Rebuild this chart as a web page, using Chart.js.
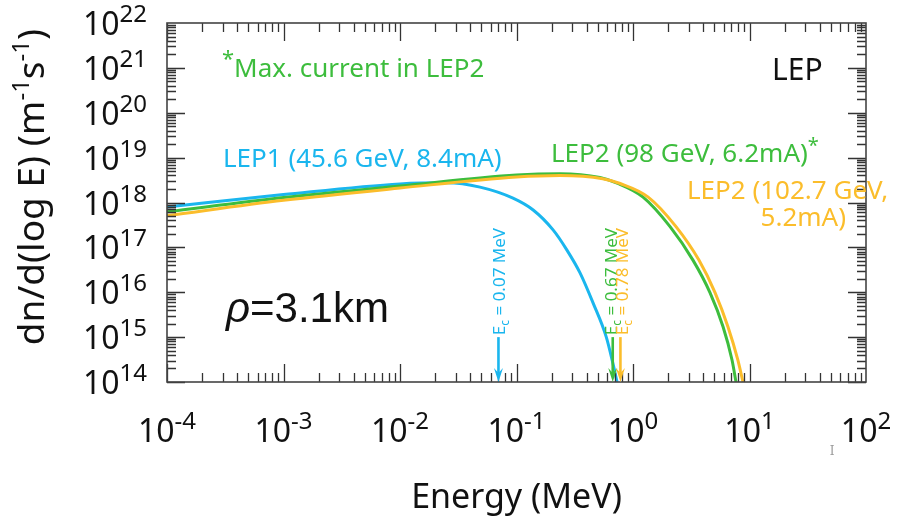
<!DOCTYPE html>
<html>
<head>
<meta charset="utf-8">
<title>Synchrotron radiation spectrum at LEP</title>
<script src="https://cdn.jsdelivr.net/npm/chart.js@4.4.1/dist/chart.umd.min.js"></script>
<style>
  html, body { margin: 0; padding: 0; background: #fff; }
  #wrap { width: 897px; height: 524px; }
</style>
</head>
<body>
<div id="wrap"><canvas id="spectrum" width="897" height="524"></canvas></div>
<script>
// photon energy (MeV) and dn/d(log E) (m^-1 s^-1) along each curve
const lep1Energy = [1e-4, 1e-3, 1e-2, 0.0253, 0.0486, 0.0933, 0.139, 0.206, 0.271, 0.351, 0.454, 0.59, 0.67, 0.73];
const lep1Flux = [7.9e17, 1.5e18, 2.6e18, 2.75e18, 2.2e18, 1.25e18, 6.8e17, 2.45e17, 8.7e16, 2.7e16, 5.8e15, 1.0e15, 2.7e14, 1.0e14];

const lep2Energy = [1e-4, 1e-3, 1e-2, 0.1, 0.236, 0.52, 0.73, 1.22, 2.08, 3.27, 4.58, 5.93, 7.08, 7.66];
const lep2Flux = [6.2e17, 1.29e18, 2.34e18, 4.1e18, 4.4e18, 3.6e18, 2.7e18, 1.32e18, 2.9e17, 5.2e16, 9.8e15, 1.7e15, 3.1e14, 1.0e14];

const lep2hEnergy = [1e-4, 1e-3, 1e-2, 0.1, 0.236, 0.55, 0.776, 1.35, 2.34, 3.68, 5.06, 6.53, 7.94, 8.79];
const lep2hFlux = [5.1e17, 1.12e18, 2.1e18, 3.7e18, 4.0e18, 3.4e18, 2.65e18, 1.32e18, 2.9e17, 5.2e16, 9.8e15, 1.7e15, 3.1e14, 1.0e14];

// critical energies (MeV), marked with arrows
const criticalEnergy = [0.07, 0.67, 0.78];
const criticalText = ['0.07', '0.67', '0.78'];
const arrowFrom = 1e15;

const xExponents = [-4, -3, -2, -1, 0, 1, 2];
const yExponents = [14, 15, 16, 17, 18, 19, 20, 21, 22];

const BLUE = '#1ab6ee';
const GREEN = '#3dbd3d';
const ORANGE = '#fbbd2b';
const SANS = '"Noto Sans", "Open Sans", sans-serif';

const zip = (xs, ys) => xs.map((x, i) => ({ x, y: ys[i] }));

// draw a run of text pieces, each with its own font and baseline shift
function drawRich(ctx, parts, x, y, align) {
  let total = 0;
  parts.forEach(p => { ctx.font = p.font; total += ctx.measureText(p.text).width; });
  let cx = align === 'center' ? x - total / 2 : align === 'right' ? x - total : x;
  ctx.textAlign = 'left';
  ctx.textBaseline = 'alphabetic';
  parts.forEach(p => {
    ctx.font = p.font;
    ctx.fillText(p.text, cx, y + (p.dy || 0));
    cx += ctx.measureText(p.text).width;
  });
}

function powerLabel(exp) {
  return [
    { text: '10', font: '32px ' + SANS },
    { text: String(exp), font: '24px ' + SANS, dy: -13 }
  ];
}

const framePlugin = {
  id: 'frame',
  beforeDraw(chart) {
    const ctx = chart.ctx;
    ctx.save();
    ctx.fillStyle = '#fff';
    ctx.fillRect(0, 0, chart.width, chart.height);
    ctx.restore();
  },
  afterDatasetsDraw(chart) {
    const { ctx, chartArea: a, scales: { x, y } } = chart;
    ctx.save();

    // log ticks pointing inward on all four sides
    ctx.strokeStyle = '#333';
    ctx.lineWidth = 1.3;
    ctx.beginPath();
    for (let d = xExponents[0]; d < xExponents[xExponents.length - 1]; d++) {
      for (let m = 1; m <= 9; m++) {
        const px = Math.round(x.getPixelForValue(m * Math.pow(10, d))) + 0.5;
        const len = m === 1 ? 18 : 9;
        ctx.moveTo(px, a.bottom); ctx.lineTo(px, a.bottom - len);
        ctx.moveTo(px, a.top); ctx.lineTo(px, a.top + len);
      }
    }
    for (let d = yExponents[0]; d < yExponents[yExponents.length - 1]; d++) {
      for (let m = 1; m <= 9; m++) {
        const py = Math.round(y.getPixelForValue(m * Math.pow(10, d))) + 0.5;
        const len = m === 1 ? 18 : 9;
        ctx.moveTo(a.left, py); ctx.lineTo(a.left + len, py);
        ctx.moveTo(a.right, py); ctx.lineTo(a.right - len, py);
      }
    }
    ctx.stroke();

    ctx.strokeStyle = '#444';
    ctx.lineWidth = 1.6;
    ctx.strokeRect(a.left, a.top, a.right - a.left, a.bottom - a.top);

    // tick labels
    ctx.fillStyle = '#111';
    xExponents.forEach(e => {
      drawRich(ctx, powerLabel(e), x.getPixelForValue(Math.pow(10, e)), a.bottom + 60, 'center');
    });
    yExponents.forEach(e => {
      drawRich(ctx, powerLabel(e), 147, y.getPixelForValue(Math.pow(10, e)) + 12, 'right');
    });

    // axis titles
    ctx.fillStyle = '#111';
    drawRich(ctx, [{ text: 'Energy (MeV)', font: '34px ' + SANS }], (a.left + a.right) / 2, 508, 'center');
    ctx.save();
    ctx.translate(44, 187);
    ctx.rotate(-Math.PI / 2);
    drawRich(ctx, [
      { text: 'dn/d(log E) (m', font: '37px ' + SANS },
      { text: '-1', font: '24px ' + SANS, dy: -15 },
      { text: 's', font: '37px ' + SANS },
      { text: '-1', font: '24px ' + SANS, dy: -15 },
      { text: ')', font: '37px ' + SANS }
    ], 0, 0, 'center');
    ctx.restore();

    // critical energy arrows
    const arrowColors = [BLUE, GREEN, ORANGE];
    const labelShift = [1, -2, 2];
    criticalEnergy.forEach((ec, i) => {
      const px = x.getPixelForValue(ec);
      const top = y.getPixelForValue(arrowFrom);
      const bot = a.bottom;
      const col = arrowColors[i];
      ctx.strokeStyle = col;
      ctx.fillStyle = col;
      ctx.lineWidth = 2.6;
      ctx.beginPath();
      ctx.moveTo(px, top); ctx.lineTo(px, bot - 8);
      ctx.stroke();
      ctx.beginPath();
      ctx.moveTo(px - 4.5, bot - 14);
      ctx.lineTo(px, bot - 9);
      ctx.lineTo(px + 4.5, bot - 14);
      ctx.lineTo(px, bot);
      ctx.closePath();
      ctx.fill();

      ctx.save();
      ctx.translate(px + labelShift[i], top - 2);
      ctx.rotate(-Math.PI / 2);
      drawRich(ctx, [
        { text: 'E', font: '17px ' + SANS },
        { text: 'c', font: '12px ' + SANS, dy: 4 },
        { text: ' = ' + criticalText[i] + ' MeV', font: '17px ' + SANS }
      ], 0, 6, 'left');
      ctx.restore();
    });

    // curve labels and notes
    ctx.fillStyle = GREEN;
    drawRich(ctx, [
      { text: '*', font: '22px ' + SANS, dy: -11 },
      { text: 'Max. current in LEP2', font: '26px ' + SANS }
    ], 222, 77, 'left');
    ctx.fillStyle = BLUE;
    drawRich(ctx, [{ text: 'LEP1 (45.6 GeV, 8.4mA)', font: '26px ' + SANS }], 223, 167, 'left');
    ctx.fillStyle = GREEN;
    drawRich(ctx, [
      { text: 'LEP2 (98 GeV, 6.2mA)', font: '26px ' + SANS },
      { text: '*', font: '20px ' + SANS, dy: -10 }
    ], 551, 162, 'left');
    ctx.fillStyle = ORANGE;
    drawRich(ctx, [{ text: 'LEP2 (102.7 GeV,', font: '26px ' + SANS }], 687, 199, 'left');
    drawRich(ctx, [{ text: '5.2mA)', font: '26px ' + SANS }], 846, 226, 'right');
    ctx.fillStyle = '#111';
    drawRich(ctx, [{ text: 'LEP', font: '30px ' + SANS }], 772, 80, 'left');
    drawRich(ctx, [
      { text: 'ρ', font: 'italic 42px "Liberation Sans", Arial, sans-serif' },
      { text: '=3.1km', font: '42px "Liberation Sans", Arial, sans-serif' }
    ], 226, 322, 'left');
    ctx.fillStyle = '#999';
    drawRich(ctx, [{ text: 'I', font: '12px "DejaVu Serif", serif' }], 832, 455, 'center');

    ctx.restore();
  }
};

const lineStyle = { borderWidth: 3, pointRadius: 0, cubicInterpolationMode: 'monotone', fill: false };

new Chart(document.getElementById('spectrum'), {
  type: 'line',
  data: {
    datasets: [
      { label: 'LEP2 (102.7 GeV, 5.2mA)', data: zip(lep2hEnergy, lep2hFlux), borderColor: ORANGE, ...lineStyle },
      { label: 'LEP2 (98 GeV, 6.2mA)', data: zip(lep2Energy, lep2Flux), borderColor: GREEN, ...lineStyle },
      { label: 'LEP1 (45.6 GeV, 8.4mA)', data: zip(lep1Energy, lep1Flux), borderColor: BLUE, ...lineStyle }
    ]
  },
  options: {
    responsive: false,
    animation: false,
    layout: { padding: { left: 167, right: 31, top: 23, bottom: 142 } },
    scales: {
      x: { type: 'logarithmic', min: 1e-4, max: 1e2, display: false },
      y: { type: 'logarithmic', min: 1e14, max: 1e22, display: false }
    },
    plugins: {
      legend: { display: false },
      tooltip: { enabled: false }
    }
  },
  plugins: [framePlugin]
});
</script>
</body>
</html>
